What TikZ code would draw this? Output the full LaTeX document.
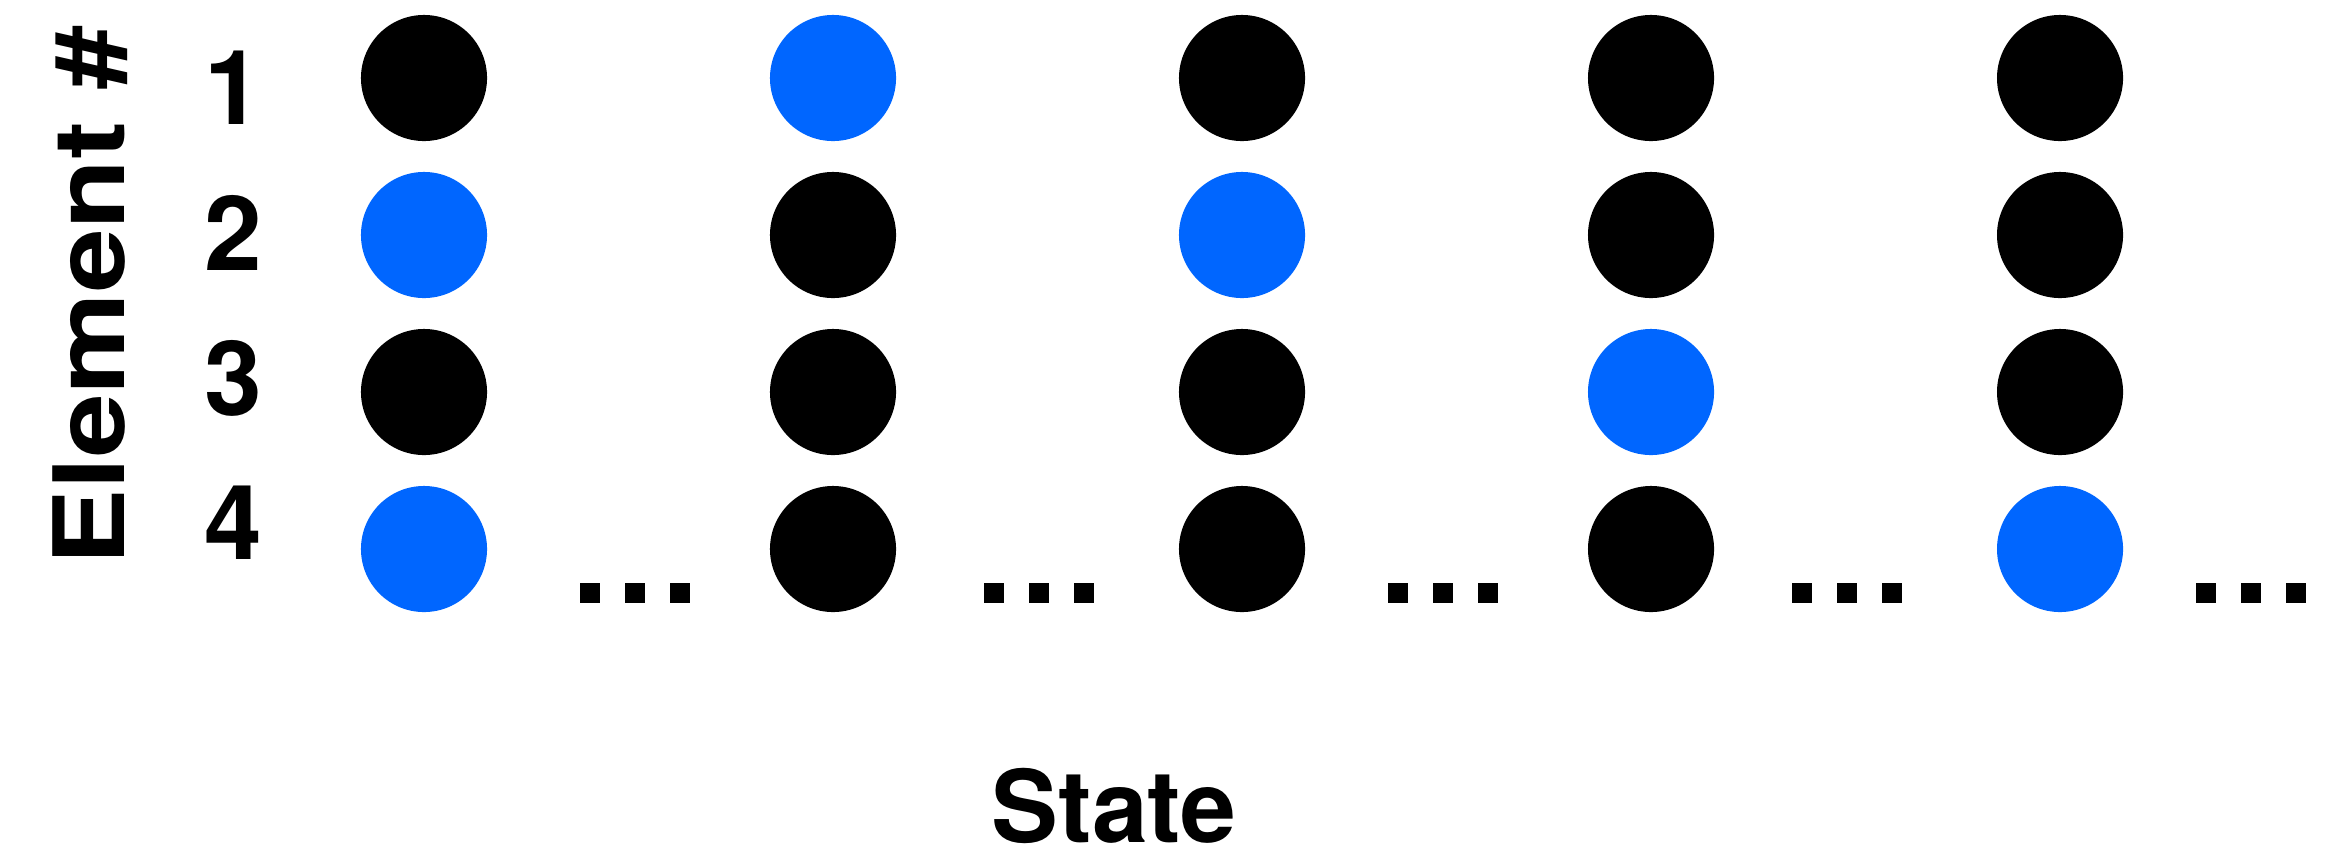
\documentclass[tikz,border=0pt]{standalone}
\usepackage{fontspec}
\usepackage{graphicx}
\setmainfont{TeX Gyre Heros}
\definecolor{dotblue}{HTML}{0066FF}
\begin{document}
\begin{tikzpicture}[x=0.01cm,y=-0.01cm,
  dotk/.style={circle,fill=black,inner sep=0,minimum size=1.26cm},
  dotb/.style={circle,fill=dotblue,inner sep=0,minimum size=1.26cm},
  ell/.style={rectangle,fill=black,inner sep=0,minimum size=0.2cm},
  lab/.style={font=\bfseries\fontsize{29.5}{30}\selectfont,inner sep=0},
  ylab/.style={font=\bfseries\fontsize{28}{29}\selectfont,inner sep=0},
  axlab/.style={font=\bfseries\fontsize{28.5}{29}\selectfont,inner sep=0}]
\useasboundingbox (0,0) rectangle (2343,857);
\fill[white] (0,0) rectangle (2343,857);
% circles
\foreach \x/\pat [count=\c] in {424/{k,b,k,b},833/{b,k,k,k},1242/{k,b,k,k},1651/{k,k,b,k},2060/{k,k,k,b}}{
  \foreach \s [count=\r] in \pat {
    \node[dot\s] (c\c-\r) at (\x,{78+157*(\r-1)}) {};
  }
}
% ellipses
\foreach \gx [count=\g] in {635,1039,1443,1847,2251}{
  \foreach \d [count=\i] in {-45,0,45}{
    \node[ell] (e\g-\i) at ({\gx+\d},593) {};
  }
}
% row numbers
\node[lab,anchor=base] (n1) at (233,124) {1};
\node[lab,anchor=base] (n2) at (233,270) {2};
\node[lab,anchor=base] (n3) at (233,415) {3};
\node[lab,anchor=base] (n4) at (233,559) {4};
% axis labels
\node[ylab,rotate=90,anchor=base] (elem) at (124,296) {\scalebox{1.16}[1]{Element \#}};
\node[axlab,anchor=base] (state) at (1114,842) {State};
\end{tikzpicture}
\end{document}
